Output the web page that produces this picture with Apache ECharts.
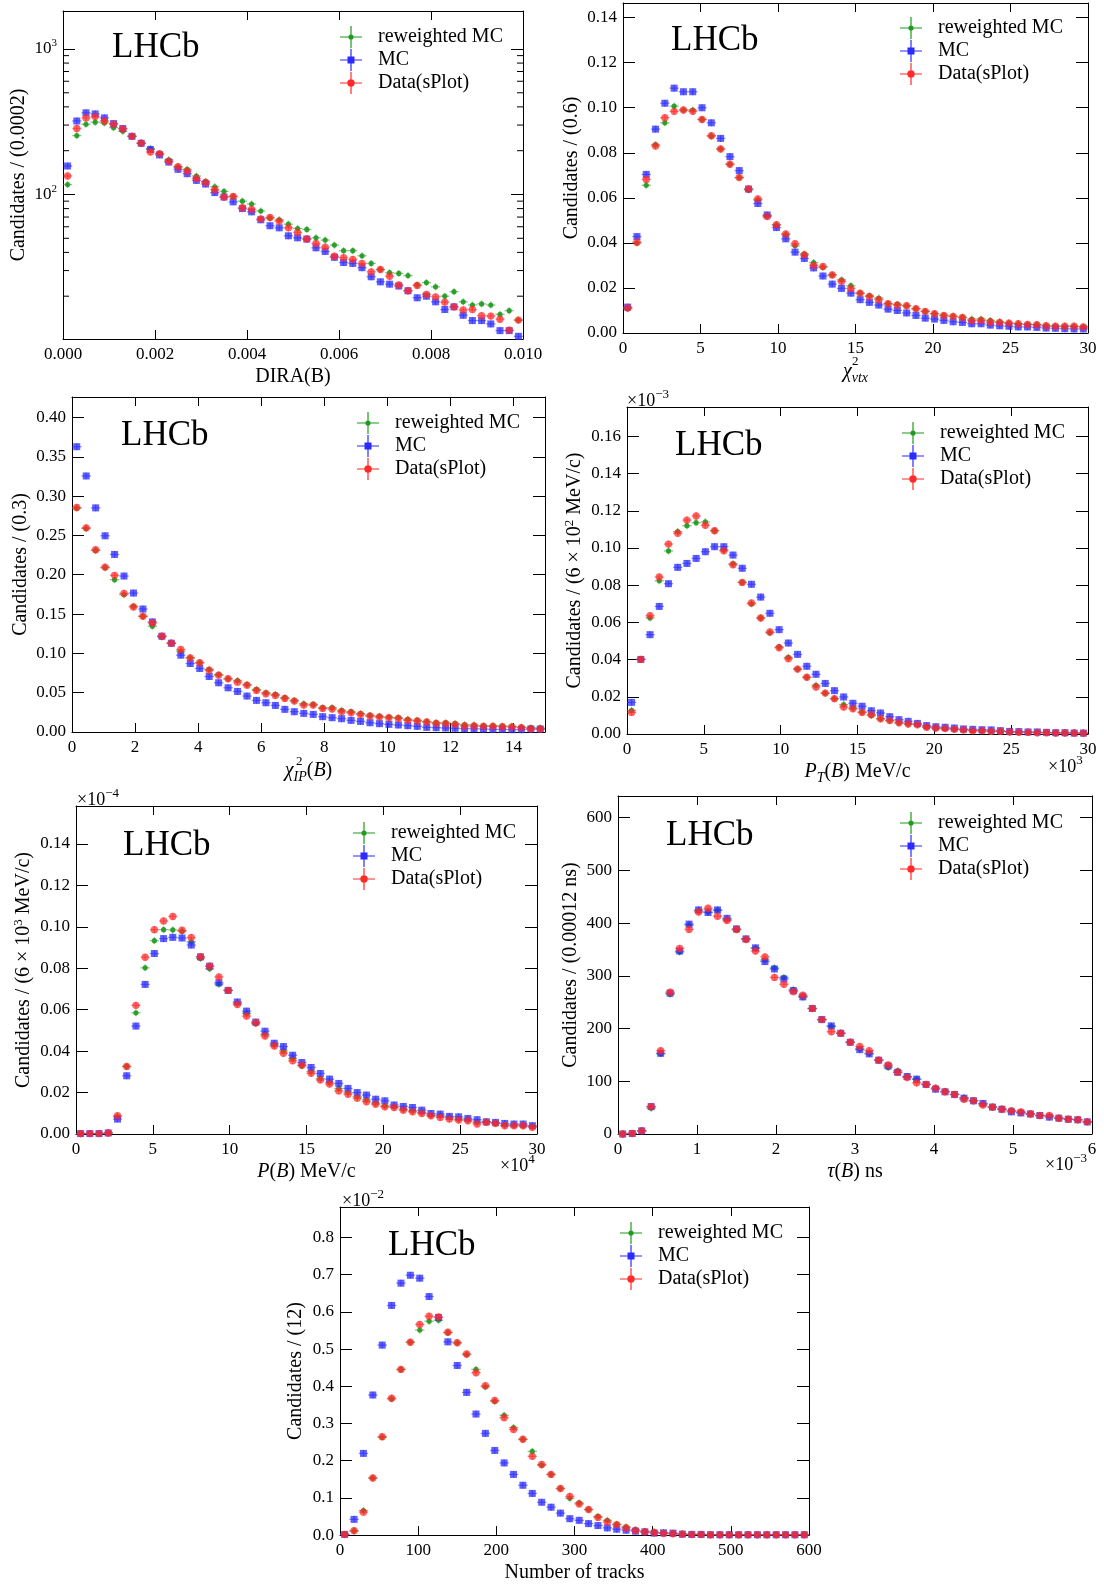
<!DOCTYPE html>
<html lang="en">
<head>
<meta charset="utf-8">
<title>reweighted MC vs MC vs Data(sPlot)</title>
<script src="https://cdn.jsdelivr.net/npm/echarts@6/dist/echarts.min.js"></script>
<style>
  html, body { margin: 0; padding: 0; background: #fff; }
  #main { width: 1104px; height: 1587px; }
</style>
</head>
<body>
<div id="main"></div>
<script>
// ---- data (bin contents, 50 bins per plot) ----
// DIRA(B), bin 0.0002
var diraGreen = [117, 254, 304, 314, 310, 288, 272, 251, 225, 207, 191, 173, 155, 149, 134, 123, 113, 105, 97, 90, 86, 77, 69, 67, 62.5, 58.4, 57.5, 50.4, 48.6, 44.9, 41.1, 41.1, 37.9, 33.6, 30.5, 29.0, 28.7, 27.7, 23.9, 24.8, 23.2, 20.0, 21.5, 18.3, 17.4, 17.7, 17.4, 15.0, 15.9, 13.7];
var diraBlue = [157, 320, 364, 358, 336, 307, 284, 251, 225, 204, 187, 167, 149, 139, 125, 118, 103, 96, 89, 80, 76, 67, 61, 59, 52, 50.4, 49.4, 43, 40.6, 37, 34.1, 33.6, 31.4, 27.2, 25.1, 24.2, 23.5, 21.8, 19.5, 20.0, 18.3, 16.2, 16.9, 14.8, 13.6, 13.6, 12.9, 11.6, 11.6, 10.6];
var diraRed = [134, 284, 336, 343, 320, 304, 282, 251, 225, 196, 191, 169, 155, 145, 129, 121, 108, 96, 97, 81, 79, 68, 69.5, 65.6, 59, 54.8, 49.4, 46.1, 43.5, 37.7, 36.8, 35.8, 33.6, 29.4, 30.5, 27.4, 23.9, 21.8, 23.7, 20.6, 19.8, 18.2, 16.9, 16.1, 16.2, 14.7, 14.6, 13.9, 11.7, 13.7];
var diraMinorTicks = [20, 30, 40, 50, 60, 70, 80, 90, 200, 300, 400, 500, 600, 700, 800, 900];

// chi2 vtx, bin 0.6
var vtxGreen = [0.0108, 0.0399, 0.0656, 0.0836, 0.0933, 0.1007, 0.0990, 0.0990, 0.0948, 0.0874, 0.0817, 0.0749, 0.0690, 0.0635, 0.0591, 0.0520, 0.0479, 0.0437, 0.0387, 0.0351, 0.0313, 0.0292, 0.0257, 0.0236, 0.0210, 0.0177, 0.0165, 0.0155, 0.0130, 0.0127, 0.0121, 0.0108, 0.0096, 0.0086, 0.0078, 0.0074, 0.0069, 0.0062, 0.0062, 0.0056, 0.0050, 0.0044, 0.0041, 0.0038, 0.0037, 0.0032, 0.0030, 0.0030, 0.0030, 0.0027];
var vtxBlue = [0.0115, 0.0428, 0.0704, 0.0905, 0.1020, 0.1087, 0.1071, 0.1071, 0.1000, 0.0933, 0.0864, 0.0783, 0.0721, 0.0639, 0.0575, 0.0524, 0.0468, 0.0418, 0.0359, 0.0331, 0.0289, 0.0253, 0.0217, 0.0198, 0.0177, 0.0148, 0.0136, 0.0124, 0.0106, 0.0100, 0.0089, 0.0078, 0.0066, 0.0062, 0.0056, 0.0050, 0.0047, 0.0041, 0.0041, 0.0035, 0.0032, 0.0030, 0.0027, 0.0027, 0.0025, 0.0022, 0.0021, 0.0019, 0.0018, 0.0018];
var vtxRed = [0.0111, 0.0403, 0.0682, 0.0830, 0.0956, 0.0984, 0.0990, 0.0984, 0.0948, 0.0876, 0.0817, 0.0749, 0.0690, 0.0639, 0.0595, 0.0517, 0.0481, 0.0440, 0.0396, 0.0347, 0.0300, 0.0295, 0.0258, 0.0229, 0.0198, 0.0177, 0.0162, 0.0148, 0.0130, 0.0124, 0.0121, 0.0108, 0.0096, 0.0086, 0.0078, 0.0074, 0.0069, 0.0055, 0.0056, 0.0049, 0.0047, 0.0044, 0.0041, 0.0038, 0.0037, 0.0032, 0.0030, 0.0030, 0.0030, 0.0027];

// chi2 IP(B), bin 0.3
var ipGreen = [0.2846, 0.2588, 0.2309, 0.2089, 0.1937, 0.1746, 0.1598, 0.1471, 0.1345, 0.1209, 0.1129, 0.1027, 0.0943, 0.0880, 0.0795, 0.0731, 0.0677, 0.0655, 0.0604, 0.0541, 0.0499, 0.0478, 0.0436, 0.0402, 0.0359, 0.0351, 0.0309, 0.0309, 0.0275, 0.0258, 0.0233, 0.0211, 0.0199, 0.0190, 0.0182, 0.0161, 0.0148, 0.0131, 0.0118, 0.0118, 0.0106, 0.0093, 0.0089, 0.0080, 0.0080, 0.0076, 0.0072, 0.0063, 0.0055, 0.0051];
var ipBlue = [0.3628, 0.3256, 0.2850, 0.2495, 0.2258, 0.1983, 0.1767, 0.1564, 0.1400, 0.1218, 0.1129, 0.0977, 0.0871, 0.0808, 0.0706, 0.0626, 0.0562, 0.0516, 0.0457, 0.0402, 0.0372, 0.0338, 0.0288, 0.0258, 0.0237, 0.0224, 0.0195, 0.0182, 0.0169, 0.0148, 0.0135, 0.0118, 0.0106, 0.0097, 0.0089, 0.0080, 0.0072, 0.0059, 0.0055, 0.0051, 0.0047, 0.0042, 0.0042, 0.0038, 0.0034, 0.0034, 0.0030, 0.0030, 0.0038, 0.0038];
var ipRed = [0.2854, 0.2596, 0.2317, 0.2097, 0.1992, 0.1763, 0.1590, 0.1471, 0.1387, 0.1218, 0.1129, 0.1049, 0.0943, 0.0880, 0.0786, 0.0723, 0.0677, 0.0634, 0.0596, 0.0529, 0.0486, 0.0465, 0.0427, 0.0393, 0.0342, 0.0342, 0.0300, 0.0292, 0.0258, 0.0245, 0.0224, 0.0203, 0.0190, 0.0182, 0.0173, 0.0148, 0.0140, 0.0127, 0.0110, 0.0106, 0.0097, 0.0076, 0.0076, 0.0072, 0.0072, 0.0068, 0.0063, 0.0055, 0.0042, 0.0038];

// P_T(B) in 10^3 MeV/c, bin 0.6
var ptGreen = [0.0127, 0.0401, 0.0624, 0.0824, 0.0984, 0.1088, 0.1120, 0.1136, 0.1140, 0.1093, 0.0989, 0.0915, 0.0815, 0.0700, 0.0624, 0.0545, 0.0468, 0.0412, 0.0349, 0.0305, 0.0262, 0.0220, 0.0190, 0.0158, 0.0140, 0.0118, 0.0099, 0.0082, 0.0072, 0.0059, 0.0054, 0.0050, 0.0038, 0.0032, 0.0029, 0.0025, 0.0022, 0.0018, 0.0018, 0.0014, 0.0014, 0.0011, 0.0009, 0.0009, 0.0007, 0.0007, 0.0005, 0.0005, 0.0005, 0.0004];
var ptBlue = [0.0170, 0.0401, 0.0534, 0.0686, 0.0808, 0.0896, 0.0917, 0.0944, 0.0980, 0.1007, 0.1007, 0.0962, 0.0891, 0.0805, 0.0736, 0.0649, 0.0561, 0.0489, 0.0428, 0.0364, 0.0321, 0.0272, 0.0233, 0.0199, 0.0165, 0.0149, 0.0125, 0.0113, 0.0093, 0.0077, 0.0068, 0.0057, 0.0045, 0.0039, 0.0036, 0.0032, 0.0027, 0.0025, 0.0023, 0.0022, 0.0018, 0.0014, 0.0013, 0.0011, 0.0011, 0.0009, 0.0007, 0.0007, 0.0005, 0.0005];
var ptRed = [0.0116, 0.0401, 0.0636, 0.0844, 0.1021, 0.1079, 0.1150, 0.1172, 0.1122, 0.1093, 0.0985, 0.0910, 0.0815, 0.0704, 0.0624, 0.0548, 0.0464, 0.0405, 0.0349, 0.0305, 0.0253, 0.0220, 0.0190, 0.0145, 0.0136, 0.0116, 0.0104, 0.0082, 0.0072, 0.0061, 0.0054, 0.0050, 0.0036, 0.0032, 0.0029, 0.0025, 0.0022, 0.0018, 0.0018, 0.0014, 0.0014, 0.0011, 0.0009, 0.0009, 0.0007, 0.0007, 0.0005, 0.0005, 0.0005, 0.0004];

// P(B) in 10^4 MeV/c, bin 0.6
var pGreen = [0.0002, 0.0002, 0.0002, 0.0005, 0.0083, 0.0326, 0.0585, 0.0802, 0.0933, 0.0986, 0.0985, 0.0978, 0.0928, 0.0847, 0.0797, 0.0723, 0.0693, 0.0631, 0.0582, 0.0532, 0.0481, 0.0430, 0.0401, 0.0364, 0.0329, 0.0301, 0.0268, 0.0249, 0.0220, 0.0200, 0.0180, 0.0165, 0.0149, 0.0136, 0.0131, 0.0120, 0.0112, 0.0104, 0.0091, 0.0088, 0.0080, 0.0072, 0.0069, 0.0056, 0.0059, 0.0053, 0.0043, 0.0043, 0.0040, 0.0037];
var pBlue = [0.0002, 0.0002, 0.0002, 0.0005, 0.0072, 0.0281, 0.0521, 0.0722, 0.0871, 0.0943, 0.0949, 0.0946, 0.0912, 0.0855, 0.0810, 0.0730, 0.0693, 0.0637, 0.0593, 0.0540, 0.0496, 0.0438, 0.0422, 0.0380, 0.0345, 0.0321, 0.0292, 0.0265, 0.0244, 0.0220, 0.0200, 0.0188, 0.0168, 0.0160, 0.0140, 0.0133, 0.0128, 0.0115, 0.0099, 0.0096, 0.0085, 0.0083, 0.0075, 0.0069, 0.0059, 0.0056, 0.0051, 0.0048, 0.0048, 0.0040];
var pRed = [0.0002, 0.0002, 0.0002, 0.0005, 0.0088, 0.0326, 0.0621, 0.0853, 0.0986, 0.1028, 0.1050, 0.0983, 0.0948, 0.0855, 0.0810, 0.0758, 0.0693, 0.0625, 0.0569, 0.0537, 0.0473, 0.0425, 0.0390, 0.0353, 0.0332, 0.0293, 0.0261, 0.0241, 0.0208, 0.0192, 0.0173, 0.0156, 0.0144, 0.0131, 0.0128, 0.0115, 0.0107, 0.0099, 0.0088, 0.0080, 0.0072, 0.0067, 0.0064, 0.0048, 0.0056, 0.0051, 0.0040, 0.0040, 0.0040, 0.0032];

// tau(B) in 10^-3 ns, bin 0.12
var tauGreen = [0, 1, 6, 49, 152, 265, 345, 396, 423, 421, 424, 407, 387, 370, 352, 330, 315, 297, 274, 260, 238, 217, 204, 191, 174, 162, 153, 140, 126, 120, 109, 104, 94, 87, 81, 75, 69, 63, 57, 51, 47, 44, 41, 38, 35, 34, 30, 28, 27, 23];
var tauBlue = [0, 1, 6, 52, 153, 267, 347, 398, 425, 420, 425, 409, 389, 370, 353, 327, 313, 294, 272, 260, 238, 217, 205, 191, 174, 160, 152, 140, 129, 117, 109, 104, 94, 85, 80, 75, 68, 63, 58, 51, 47, 42, 40, 38, 35, 32, 30, 28, 27, 23];
var tauRed = [0, 1, 6, 52, 158, 269, 352, 388, 421, 428, 413, 405, 388, 369, 347, 336, 297, 284, 270, 263, 238, 217, 194, 191, 174, 166, 158, 140, 131, 117, 107, 97, 94, 87, 80, 75, 66, 63, 55, 51, 47, 44, 42, 38, 35, 35, 30, 28, 27, 23];

// number of tracks in 10^-2, bin 12
var trkGreen = [0.0018, 0.0115, 0.0660, 0.1534, 0.2628, 0.3660, 0.4453, 0.5185, 0.5511, 0.5750, 0.5776, 0.5441, 0.5168, 0.4850, 0.4453, 0.3986, 0.3598, 0.3219, 0.2892, 0.2575, 0.2249, 0.1878, 0.1631, 0.1252, 0.0988, 0.0864, 0.0688, 0.0503, 0.0397, 0.0291, 0.0220, 0.0150, 0.0106, 0.0088, 0.0053, 0.0044, 0.0026, 0.0018, 0.0018, 0.0009, 0.0009, 0.0009, 0.0009, 0.0009, 0.0009, 0.0009, 0.0009, 0.0009, 0.0009, 0.0009];
var trkBlue = [0.0018, 0.0423, 0.2196, 0.3765, 0.5106, 0.6173, 0.6772, 0.6984, 0.6905, 0.6411, 0.5847, 0.5194, 0.4559, 0.3836, 0.3254, 0.2734, 0.2275, 0.1940, 0.1631, 0.1340, 0.1120, 0.0882, 0.0750, 0.0591, 0.0441, 0.0397, 0.0309, 0.0256, 0.0194, 0.0159, 0.0132, 0.0106, 0.0088, 0.0053, 0.0062, 0.0053, 0.0026, 0.0018, 0.0018, 0.0009, 0.0009, 0.0009, 0.0009, 0.0009, 0.0009, 0.0009, 0.0009, 0.0009, 0.0009, 0.0009];
var trkRed = [0.0018, 0.0115, 0.0617, 0.1534, 0.2646, 0.3677, 0.4453, 0.5185, 0.5661, 0.5882, 0.5864, 0.5450, 0.5168, 0.4868, 0.4365, 0.4012, 0.3616, 0.3157, 0.2840, 0.2575, 0.2116, 0.1896, 0.1631, 0.1252, 0.1041, 0.0838, 0.0688, 0.0476, 0.0353, 0.0282, 0.0194, 0.0123, 0.0088, 0.0070, 0.0044, 0.0035, 0.0026, 0.0018, 0.0018, 0.0009, 0.0009, 0.0009, 0.0009, 0.0009, 0.0009, 0.0009, 0.0009, 0.0009, 0.0009, 0.0009];

var seriesNames = ['reweighted MC', 'MC', 'Data(sPlot)'];
var GREEN = '#1f9a1f', BLUE = '#2b2bff', RED = '#ff2b2b';

// ---- styling ----
var FONT = 'Liberation Serif';
var SUP = { fontFamily: FONT, fontSize: 13, lineHeight: 13, verticalAlign: 'top', color: '#000' };
var SUB = { fontFamily: FONT, fontSize: 14, fontStyle: 'italic', lineHeight: 16, verticalAlign: 'bottom', color: '#000' };
var IT = { fontFamily: FONT, fontSize: 20, fontStyle: 'italic', lineHeight: 26, color: '#000' };

var CROSS = 'M0 10.4h22v1.2H0Z M10.4 0h1.2v22h-1.2Z ';
var ICONS = [
  'path://' + CROSS + 'M8.4 11A2.6 2.6 0 1 1 13.6 11A2.6 2.6 0 1 1 8.4 11Z',
  'path://' + CROSS + 'M7.5 7.5h7v7h-7Z',
  'path://' + CROSS + 'M7.3 11A3.7 3.7 0 1 1 14.7 11A3.7 3.7 0 1 1 7.3 11Z'
];

var panels = [
  { bin: 0.0002, sets: [diraGreen, diraBlue, diraRed], grid: [63, 11, 460, 328],
    x: [0, 0.010, 0.002], xDec: 3, xMaxLabel: true, yLog: true, y: [10.16, 1824],
    xName: 'DIRA(B)', xGap: 18, yName: 'Candidates / (0.0002)', yGap: 32,
    lhcb: [112, 30], legend: [340, 26] },
  { bin: 0.6, sets: [vtxGreen, vtxBlue, vtxRed], grid: [623, 3, 465, 330],
    x: [0, 30, 5], xDec: 0, xMaxLabel: true, y: [0, 0.1465, 0.02], yDec: 2,
    xName: '{i|χ}{b|vtx}', xGap: 26, yName: 'Candidates / (0.6)', yGap: 38,
    lhcb: [671, 23], legend: [900, 17] },
  { bin: 0.3, sets: [ipGreen, ipBlue, ipRed], grid: [72, 397, 473, 335],
    x: [0, 15, 2], xDec: 0, xMaxLabel: false, y: [0, 0.426, 0.05], yDec: 2,
    xName: '{i|χ}{b|IP}({i|B})', xGap: 26, yName: 'Candidates / (0.3)', yGap: 39,
    lhcb: [121, 418], legend: [357, 412] },
  { bin: 0.6, sets: [ptGreen, ptBlue, ptRed], grid: [627, 407, 461, 327],
    x: [0, 30, 5], xDec: 0, xMaxLabel: true, y: [0, 0.1758, 0.02], yDec: 2,
    xName: '{i|P}{b|T}({i|B}) MeV/c', xGap: 20, yName: 'Candidates / (6 × 10{s|2} MeV/c)', yGap: 40,
    lhcb: [675, 428], legend: [902, 422] },
  { bin: 0.6, sets: [pGreen, pBlue, pRed], grid: [76, 806, 461, 328],
    x: [0, 30, 5], xDec: 0, xMaxLabel: true, y: [0, 0.1583, 0.02], yDec: 2,
    xName: '{i|P}({i|B}) MeV/c', xGap: 20, yName: 'Candidates / (6 × 10{s|3} MeV/c)', yGap: 40,
    lhcb: [123, 828], legend: [353, 822] },
  { bin: 0.12, sets: [tauGreen, tauBlue, tauRed], grid: [618, 796, 474, 338],
    x: [0, 6, 1], xDec: 0, xMaxLabel: true, y: [0, 641, 100], yDec: 0,
    xName: '{i|τ}({i|B}) ns', xGap: 20, yName: 'Candidates / (0.00012 ns)', yGap: 33,
    lhcb: [666, 818], legend: [900, 812] },
  { bin: 12, sets: [trkGreen, trkBlue, trkRed], grid: [340, 1207, 469, 333],
    x: [0, 600, 100], xDec: 0, xMaxLabel: true, y: [0, 0.8818, 0.1], yDec: 1,
    xName: 'Number of tracks', xGap: 19, yName: 'Candidates / (12)', yGap: 32,
    lhcb: [388, 1228], legend: [620, 1222] }
];

// extra text: multipliers and the stacked superscripts of chi2
var extraTexts = [
  { text: '×10{s|−3}', left: 627, top: 388 },
  { text: '×10{s|3}', left: 1048, top: 754 },
  { text: '×10{s|−4}', left: 77, top: 787 },
  { text: '×10{s|4}', left: 500, top: 1153 },
  { text: '×10{s|−3}', left: 1045, top: 1152 },
  { text: '×10{s|−2}', left: 342, top: 1188 }
];
var chiSups = [[852, 355], [296, 755]];

function makeRender(kind, hw, color) {
  return function (params, api) {
    var x = api.value(0), y = api.value(1);
    var c = api.coord([x, y]);
    var a = api.coord([x - hw, y]);
    var b = api.coord([x + hw, y]);
    var bar = { stroke: color, lineWidth: 1.3, opacity: 0.55 };
    var kids = [
      { type: 'line', shape: { x1: a[0], y1: c[1], x2: b[0], y2: c[1] }, style: bar },
      { type: 'line', shape: { x1: c[0], y1: c[1] - 3.5, x2: c[0], y2: c[1] + 3.5 }, style: bar }
    ];
    if (kind === 1) {
      kids.push({ type: 'rect', shape: { x: c[0] - 3.5, y: c[1] - 3.5, width: 7, height: 7 }, style: { fill: color, opacity: 0.75 } });
    } else {
      kids.push({ type: 'circle', shape: { cx: c[0], cy: c[1], r: kind === 0 ? 2.6 : 3.7 }, style: { fill: color, opacity: kind === 0 ? 0.9 : 0.72 } });
    }
    return { type: 'group', children: kids };
  };
}

var colors = [GREEN, BLUE, RED];
var option = {
  animation: false,
  backgroundColor: '#fff',
  grid: [], xAxis: [], yAxis: [], series: [], legend: [], title: []
};

panels.forEach(function (p, k) {
  option.grid.push({ left: p.grid[0], top: p.grid[1], width: p.grid[2], height: p.grid[3], containLabel: false });

  var xTick = { show: true, inside: true, length: 9, lineStyle: { color: '#000', width: 1 } };
  var yTick = { show: true, inside: true, length: 12, lineStyle: { color: '#000', width: 1 } };
  var line = { show: true, onZero: false, lineStyle: { color: '#000', width: 1 } };
  var labelBase = { fontFamily: FONT, fontSize: 17, color: '#000' };

  option.xAxis.push({
    gridIndex: k, type: 'value', position: 'bottom', min: p.x[0], max: p.x[1], interval: p.x[2],
    axisLine: line, axisTick: xTick, splitLine: { show: false },
    axisLabel: Object.assign({ margin: 7, showMaxLabel: p.xMaxLabel,
      formatter: (function (d) { return function (v) { return v.toFixed(d); }; })(p.xDec) }, labelBase),
    name: p.xName, nameLocation: 'middle', nameGap: p.xGap,
    nameTextStyle: { fontFamily: FONT, fontSize: 20, color: '#000', lineHeight: 26, rich: { i: IT, b: SUB } }
  });
  option.xAxis.push({
    gridIndex: k, type: 'value', position: 'top', min: p.x[0], max: p.x[1], interval: p.x[2],
    axisLine: line, axisTick: xTick, axisLabel: { show: false }, splitLine: { show: false }
  });

  var yScale = p.yLog
    ? { type: 'log', logBase: 10, min: p.y[0], max: p.y[1] }
    : { type: 'value', min: p.y[0], max: p.y[1], interval: p.y[2] };
  var yLabel = p.yLog
    ? { formatter: function (v) { return '10{s|' + Math.round(Math.log(v) / Math.LN10) + '}'; },
        rich: { s: { fontFamily: FONT, fontSize: 11, lineHeight: 11, verticalAlign: 'top', color: '#000' } },
        lineHeight: 22, showMinLabel: false }
    : { formatter: (function (d) { return function (v) { return v.toFixed(d); }; })(p.yDec) };
  option.yAxis.push(Object.assign({
    gridIndex: k, position: 'left',
    axisLine: line, axisTick: yTick, splitLine: { show: false },
    axisLabel: Object.assign({ margin: 6, showMaxLabel: false }, labelBase, yLabel),
    name: p.yName, nameLocation: 'middle', nameGap: p.yGap,
    nameTextStyle: { fontFamily: FONT, fontSize: 20, color: '#000', lineHeight: 24, rich: { s: SUP } }
  }, yScale));
  option.yAxis.push(Object.assign({
    gridIndex: k, position: 'right',
    axisLine: line, axisTick: yTick, axisLabel: { show: false }, splitLine: { show: false }
  }, yScale));

  p.sets.forEach(function (vals, s) {
    var data = vals.map(function (v, i) { return [(i + 0.5) * p.bin, v]; });
    option.series.push({
      type: 'custom', name: seriesNames[s], xAxisIndex: 2 * k, yAxisIndex: 2 * k,
      data: data, itemStyle: { color: colors[s] }, silent: true,
      renderItem: makeRender(s, p.bin / 2, colors[s])
    });
  });

  option.legend.push({
    left: p.legend[0], top: p.legend[1], orient: 'vertical', padding: 0,
    itemWidth: 22, itemHeight: 22, itemGap: 1, selectedMode: false,
    textStyle: { fontFamily: FONT, fontSize: 20, color: '#000', padding: [0, 0, 0, 11] },
    data: seriesNames.map(function (n, s) { return { name: n, icon: ICONS[s] }; })
  });

  option.title.push({
    text: 'LHCb', left: p.lhcb[0], top: p.lhcb[1], padding: 0,
    textStyle: { fontFamily: FONT, fontSize: 35, fontWeight: 'normal', color: '#000' }
  });
});

// minor ticks of the log axis (DIRA plot)
option.series.push({
  type: 'custom', name: 'minor', xAxisIndex: 0, yAxisIndex: 0, silent: true,
  data: diraMinorTicks.map(function (v) { return [0, v]; }),
  renderItem: function (params, api) {
    var cs = params.coordSys;
    var y = api.coord([0, api.value(1)])[1];
    var st = { stroke: '#000', lineWidth: 1 };
    return { type: 'group', children: [
      { type: 'line', shape: { x1: cs.x, y1: y, x2: cs.x + 6, y2: y }, style: st },
      { type: 'line', shape: { x1: cs.x + cs.width - 6, y1: y, x2: cs.x + cs.width, y2: y }, style: st }
    ] };
  }
});

extraTexts.forEach(function (t) {
  option.title.push({
    text: t.text, left: t.left, top: t.top, padding: 0,
    textStyle: { fontFamily: FONT, fontSize: 18, fontWeight: 'normal', color: '#000', lineHeight: 26, rich: { s: SUP } }
  });
});
chiSups.forEach(function (c) {
  option.title.push({
    text: '2', left: c[0], top: c[1], padding: 0,
    textStyle: { fontFamily: FONT, fontSize: 13, fontWeight: 'normal', color: '#000', lineHeight: 13 }
  });
});

var myChart = echarts.init(document.getElementById('main'));
myChart.setOption(option);
</script>
</body>
</html>
